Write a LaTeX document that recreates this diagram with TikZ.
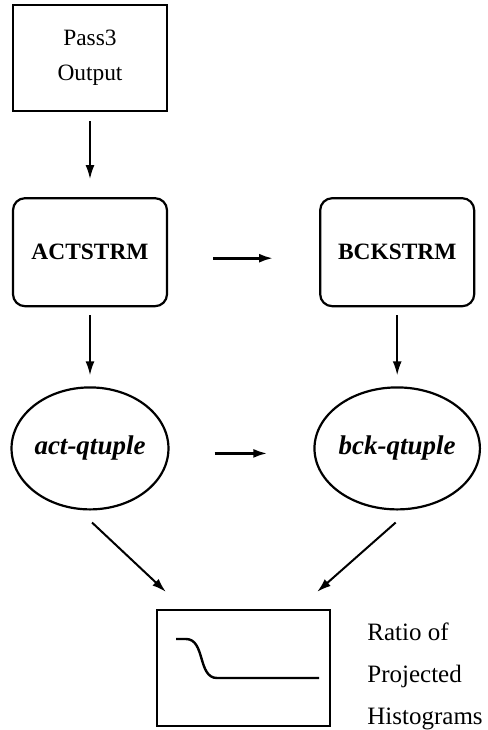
\documentclass[tikz,border=0pt]{standalone}
\usepackage{fontspec}
\setmainfont{Liberation Serif}
\usetikzlibrary{arrows.meta,positioning,shapes.geometric}

\begin{document}
\begin{tikzpicture}[x=0.5pt,y=-0.5pt,>={Latex[length=7pt,width=4.5pt]},
file/.style={draw,line width=1.1pt,minimum width=77pt,minimum height=53pt,
align=center,font=\fontsize{11.7}{17.5}\selectfont},
stage/.style={draw,line width=1.1pt,rounded corners=6pt,minimum width=77pt,
minimum height=54pt,font=\fontsize{11.7}{14}\selectfont\bfseries},
tuple/.style={draw,ellipse,line width=1.1pt,minimum width=77pt,
minimum height=61pt,inner sep=0pt,font=\fontsize{13.5}{16}\selectfont\bfseries\itshape},
plot/.style={draw,line width=1.1pt,minimum width=86.5pt,minimum height=58pt},
flow/.style={->,line width=0.9pt}]
\useasboundingbox (0,0) rectangle (488,730);
\node[file] (pass3) at (90,58) {Pass3\\Output};
\node[stage,below=42.5pt of pass3] (act) {ACTSTRM};
\node[stage,right=75.5pt of act] (bck) {BCKSTRM};
\node[tuple,below=39.5pt of act] (actq) {act-qtuple};
\node[tuple,below=39.5pt of bck] (bckq) {bck-qtuple};
\node[plot] (hist) at (243.5,668) {};
\node[anchor=north west,inner sep=0pt,align=left,
font=\fontsize{12.5}{21}\selectfont] (ratio) at (367,622) {Ratio of\\Projected\\Histograms};
% the ratio curve inside the plot
\draw[line width=1.2pt] (176,639) -- (186,639) to[out=0,in=180] (217,678) -- (319,678);
\draw[flow,shorten <=4.5pt,shorten >=9pt] (pass3)--(act);
\draw[flow,shorten <=4pt,shorten >=5.5pt] (act)--(actq);
\draw[flow,shorten <=4pt,shorten >=5.5pt] (bck)--(bckq);
\draw[flow,line width=1.3pt,shorten <=22.5pt,shorten >=23pt] ([yshift=-3pt]act.east)--([yshift=-3pt]bck.west);
\draw[flow,line width=1.3pt,shorten <=22.5pt,shorten >=23pt] ([yshift=-2.5pt]actq.east)--([yshift=-2.5pt]bckq.west);
\draw[flow,line width=1pt] ([xshift=1pt,yshift=-6pt]actq.south)--([xshift=5pt,yshift=8.5pt]hist.north west);
\draw[flow,line width=1pt] ([xshift=-0.75pt,yshift=-6pt]bckq.south)--([xshift=-7pt,yshift=8.5pt]hist.north east);
\end{tikzpicture}
\end{document}
